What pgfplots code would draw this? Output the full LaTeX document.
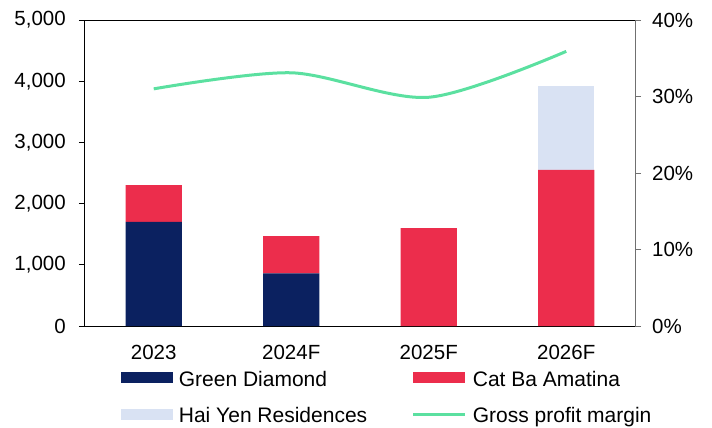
\documentclass[border=0pt]{standalone}
\usepackage{fontspec}
\setmainfont{Liberation Sans}
\usepackage{pgfplots}
\pgfplotsset{compat=1.18}
\definecolor{gd}{HTML}{0B2160}
\definecolor{cb}{HTML}{EC2D4C}
\definecolor{hy}{HTML}{D9E2F3}
\definecolor{gpm}{HTML}{5BE0A0}
\definecolor{rgrey}{HTML}{707070}
\pgfplotsset{
  every axis/.append style={
    scale only axis, width=550bp, height=306bp,
    xmin=-0.5, xmax=3.5,
    tick label style={font=\fontsize{20.5bp}{24bp}\selectfont, /pgf/number format/assume math mode=true},
    tick align=outside, major tick length=6bp,
  }
}
\begin{document}
\fontsize{21bp}{25bp}\selectfont
\begin{tikzpicture}
\path[use as bounding box] (-85bp,-102bp) rectangle (627bp,326bp);
\begin{axis}[
  ybar stacked, bar width=0.41,
  ymin=0, ymax=5000,
  axis x line*=bottom, axis y line*=left,
  x axis line style={black, line width=1bp},
  y axis line style={black, line width=1bp},
  xtick={0,1,2,3}, xticklabels={2023,2024F,2025F,2026F},
  x tick label style={yshift=-6bp},
  major x tick style={draw=none},
  extra x ticks={-0.5,0.5,1.5,2.5,3.5}, extra x tick labels={},
  extra x tick style={major x tick style={black, line width=0.8bp}},
  ytick={0,1000,...,5000},
  ytick style={black, line width=0.8bp},
  y tick label style={xshift=-6bp, /pgf/number format/.cd, 1000 sep={,}},
  legend columns=2,
  legend style={draw=none, fill=none, inner sep=0pt, at={(axis description cs:0.0649,-0.1389)}, anchor=north west,
    nodes={inner sep=0pt, font=\fontsize{21bp}{25bp}\selectfont},
    /tikz/every odd column/.style={column sep=6bp},
    /tikz/row sep=16bp},
  legend cell align=left,
]
\addplot[fill=gd, draw=none, legend image code/.code={\fill[gd] (0bp,-4bp) rectangle (52bp,7bp);}] coordinates {(0,1700) (1,860) (2,0) (3,0)};
\addplot[fill=cb, draw=none, legend image code/.code={\fill[cb] (0bp,-4bp) rectangle (52bp,7bp);}] coordinates {(0,600) (1,610) (2,1600) (3,2550)};
\addplot[fill=hy, draw=none, legend image code/.code={\fill[hy] (0bp,-4bp) rectangle (52bp,7bp);}] coordinates {(0,0) (1,0) (2,0) (3,1370)};
\addlegendimage{legend image code/.code={\draw[gpm, line width=3bp] (0bp,1.5bp) -- (52bp,1.5bp);}}
\legend{\makebox[233bp][l]{\strut Green Diamond},\strut Cat Ba Amatina,\makebox[233bp][l]{\strut Hai Yen Residences},\strut Gross profit margin}
\draw[black, line width=1bp] (rel axis cs:0,1) -- (rel axis cs:1,1);
\end{axis}
\begin{axis}[
  ymin=0, ymax=40,
  axis y line*=right, axis x line=none,
  ytick={0,10,...,40},
  yticklabel={\pgfmathprintnumber{\tick}\%},
  y tick label style={xshift=4bp},
  y axis line style={rgrey, line width=1bp},
  ytick style={rgrey, line width=0.8bp},
]
\addplot[gpm, line width=3bp, smooth] coordinates {(0,31.0) (1,33.1) (2,29.9) (3,35.9)};
\end{axis}
\end{tikzpicture}
\end{document}
